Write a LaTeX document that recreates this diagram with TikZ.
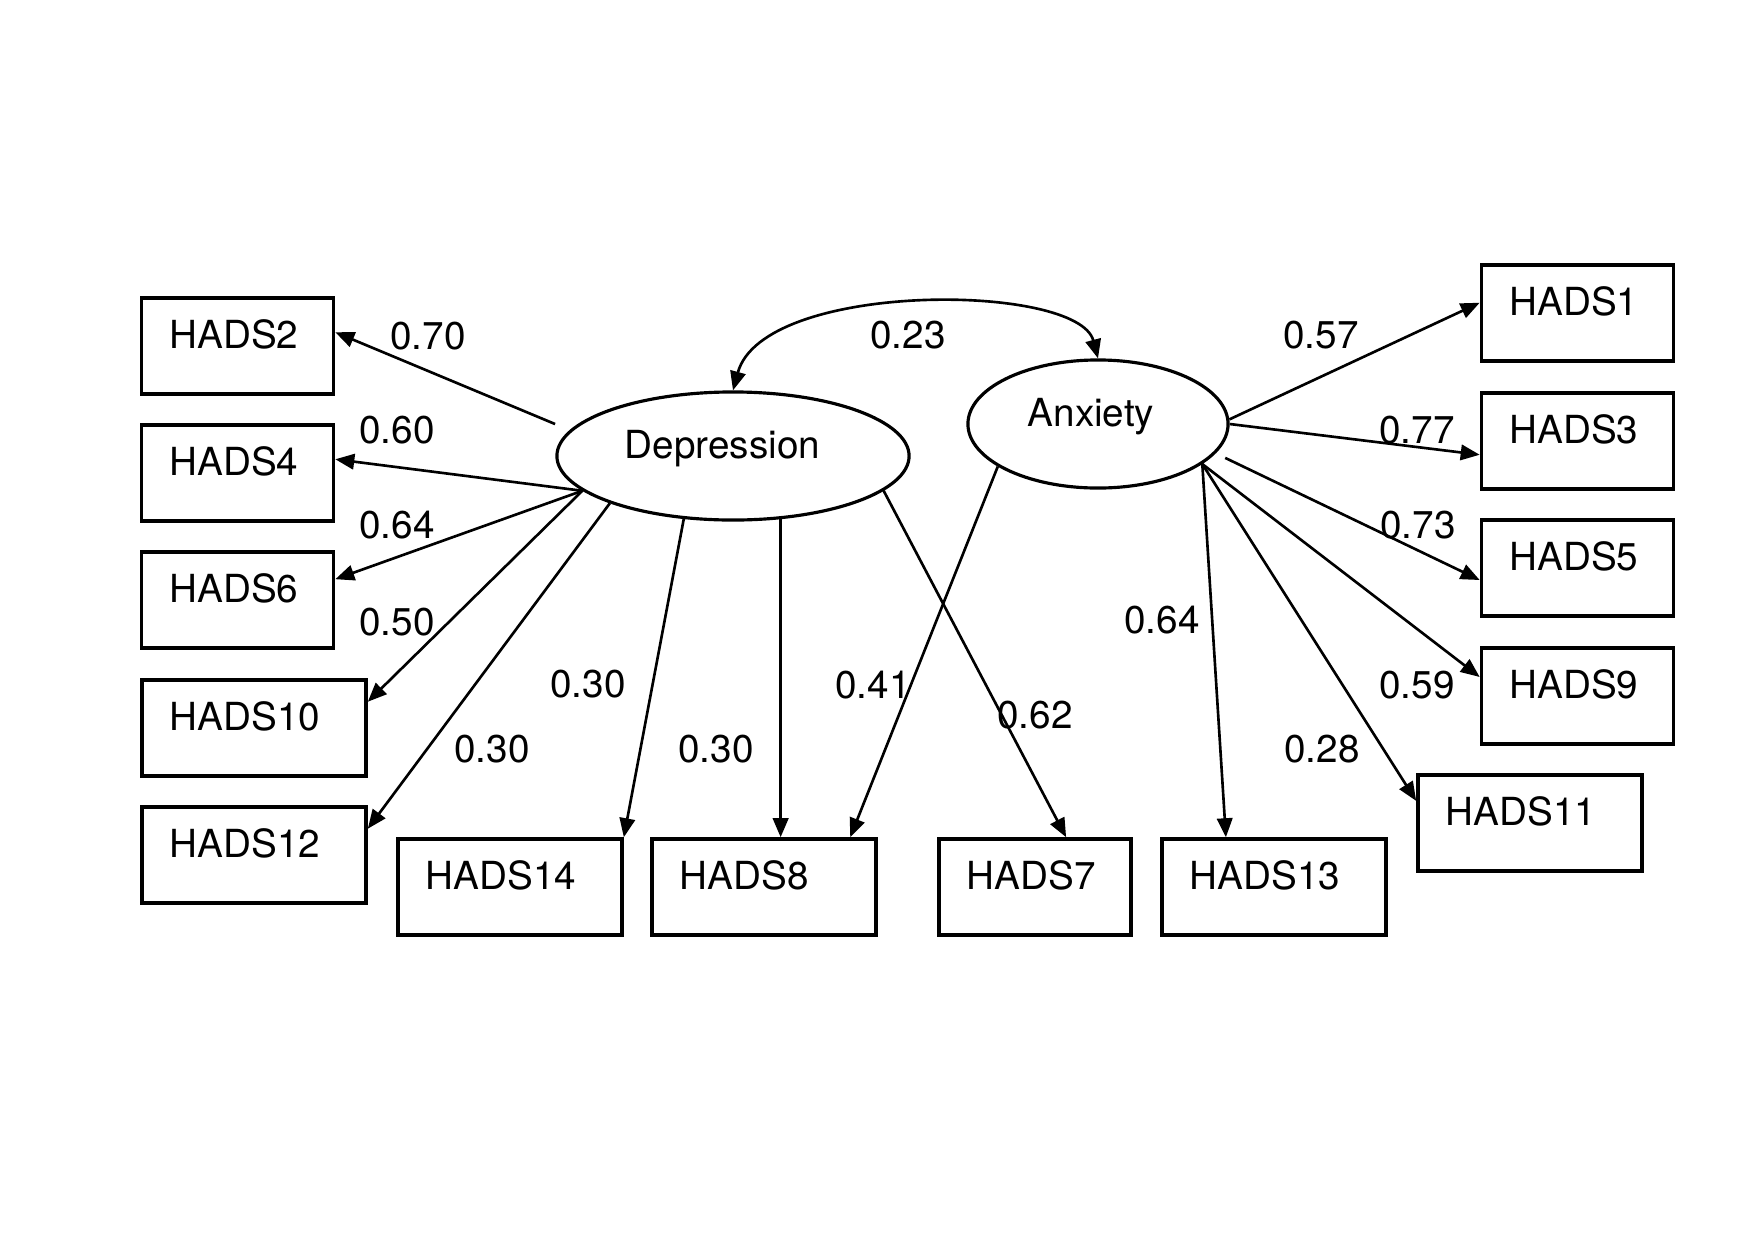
\documentclass[tikz,border=0pt]{standalone}
\usepackage{fontspec}
\setmainfont{TeX Gyre Heros}
\usepackage{tikz}
\usetikzlibrary{shapes.geometric,arrows.meta}
\newcommand{\obswd}{1.36cm}
\newcommand{\obswide}{1.68cm}
\newcommand{\tipl}{5.4pt}
\newcommand{\tipw}{4.4pt}

\begin{document}
\begin{tikzpicture}[x=0.01cm, y=-0.01cm,
    every node/.style={font=\fontsize{11pt}{13pt}\selectfont},
    obs/.style={draw, rectangle, line width=1pt, text width=\obswd, align=left,
        inner xsep=0.28cm, inner ysep=0pt, text height=0.50cm, text depth=0.46cm},
    obsw/.style={obs, text width=\obswide},
    lat/.style={draw, ellipse, line width=0.9pt, inner sep=0pt, minimum height=1.28cm,
        text height=7.9pt, text depth=6.5pt},
    load/.style={-{Triangle[length=\tipl,width=\tipw]}, line width=0.75pt},
    coef/.style={anchor=base, inner sep=0pt}]
    \useasboundingbox (0,0) rectangle (1754,1239);
    % === === === Latent factors
    \node[lat, minimum width=3.52cm] (dep) at (733,456) {Depression\hspace*{6pt}};
    \node[lat, minimum width=2.60cm] (anx) at (1098,424) {Anxiety\hspace*{4pt}};
    % === === === Items, left column
    \node[obs]  (h2)  at (237.5,346) {HADS2};
    \node[obs]  (h4)  at (237.5,473) {HADS4};
    \node[obs]  (h6)  at (237.5,600) {HADS6};
    \node[obsw] (h10) at (254,728) {HADS10};
    \node[obsw] (h12) at (254,855) {HADS12};
    % === === === Items, bottom row
    \node[obsw] (h14) at (510,887) {HADS14};
    \node[obsw] (h8)  at (764,887) {HADS8};
    \node[obs]  (h7)  at (1035,887) {HADS7};
    \node[obsw] (h13) at (1274,887) {HADS13};
    \node[obsw] (h11) at (1530,823) {HADS11};
    % === === === Items, right column
    \node[obs]  (h1)  at (1577.5,313) {HADS1};
    \node[obs]  (h3)  at (1577.5,441) {HADS3};
    \node[obs]  (h5)  at (1577.5,568) {HADS5};
    \node[obs]  (h9)  at (1577.5,696) {HADS9};
    % --- --- --- Correlation
    \draw[{Triangle[length=\tipl,width=\tipw]}-{Triangle[length=\tipl,width=\tipw]}, line width=0.75pt]
        (dep.north) .. controls +(30,-110) and +(-20,-76) .. (anx.north);
    % --- --- --- Depression loadings
    \draw[load, shorten <=4.5pt] (dep.171) -- (h2.8);
    \draw[load] (dep.193) -- (h4.8);
    \draw[load] (dep.193) -- (h6.12);
    \draw[load] (dep.193) -- (h10.13);
    \draw[load] (dep.201) -- (h12.13);
    \draw[load] (dep.232) -- (h14.north east);
    \draw[load] (dep.307) -- (dep.307 |- h8.north);
    \draw[load] (dep.347) -- (h7.58);
    % --- --- --- Anxiety loadings
    \draw[load] (anx.203) -- (h8.30);
    \draw[load] (anx.339) -- (h13.134);
    \draw[load] (anx.339) -- (h11.169);
    \draw[load] (anx.339) -- (h9.169);
    \draw[load, shorten <=3pt] (anx.346) -- (h5.187);
    \draw[load] (anx.east) -- (h3.188);
    \draw[load] (anx.2) -- (h1.174);
    % === === === Coefficients
    \node[coef] (r)   at (908,348) {0.23};
    \node[coef] (l2)  at (428,349) {0.70};
    \node[coef] (l4)  at (397,443) {0.60};
    \node[coef] (l6)  at (397,538) {0.64};
    \node[coef] (l10) at (397,635) {0.50};
    \node[coef] (l12) at (492,762) {0.30};
    \node[coef] (l14) at (588,697) {0.30};
    \node[coef] (l8)  at (716,762) {0.30};
    \node[coef] (m8)  at (873,698) {0.41};
    \node[coef] (l7)  at (1035,728) {0.62};
    \node[coef] (l13) at (1162,633) {0.64};
    \node[coef] (l11) at (1322,762) {0.28};
    \node[coef] (l9)  at (1417,698) {0.59};
    \node[coef] (l1)  at (1321,348) {0.57};
    \node[coef] (l3)  at (1417,443) {0.77};
    \node[coef] (l5)  at (1418,538) {0.73};
\end{tikzpicture}
\end{document}
